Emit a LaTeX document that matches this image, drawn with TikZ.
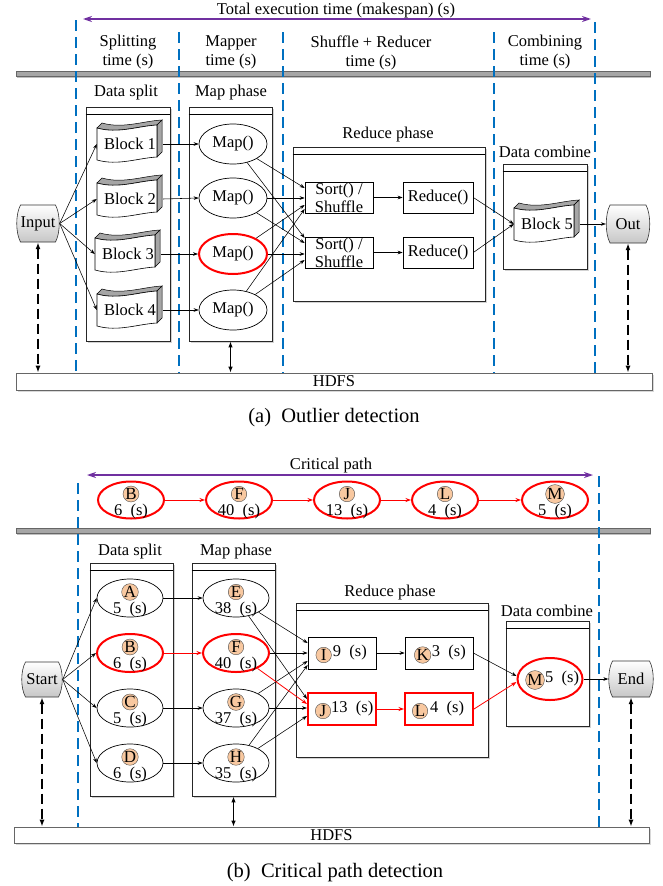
\documentclass[tikz,border=0pt]{standalone}
\usepackage{fontspec}
\setmainfont{Liberation Serif}
\usetikzlibrary{arrows.meta,calc,shapes.geometric,shadows}
\definecolor{dblue}{RGB}{0,112,192}
\definecolor{purp}{RGB}{112,48,160}
\definecolor{peach}{RGB}{248,200,160}
\definecolor{barg}{RGB}{166,166,166}
\definecolor{myred}{RGB}{255,0,0}
\tikzset{
  every node/.style={font=\fontsize{16.5}{19}\selectfont, inner sep=0pt},
  cont/.style={draw=black!85, line width=0.8pt, fill=white,
     drop shadow={shadow xshift=1.5pt,shadow yshift=-1.5pt,fill=black!35}},
  bline/.style={dblue, line width=1.4pt, dash pattern=on 11pt off 6pt},
  arr/.style={-{Stealth[length=5pt,width=3.6pt]}, line width=0.55pt},
  rarr/.style={-{Stealth[length=5.5pt,width=4pt]}, myred, line width=0.8pt},
  darr/.style={{Latex[length=7pt,width=5pt]}-{Latex[length=7pt,width=5pt]}, line width=1.4pt, dash pattern=on 10pt off 5pt},
  sarr/.style={{Latex[length=6pt,width=4.5pt]}-{Latex[length=6pt,width=4.5pt]}, line width=1.2pt},
  parr/.style={{Stealth[length=9pt,width=6pt]}-{Stealth[length=9pt,width=6pt]}, purp, line width=1.5pt},
  ell/.style={ellipse, draw, line width=0.7pt, fill=white, minimum width=66pt, minimum height=38pt},
  rell/.style={ell, draw=myred, line width=2pt},
  mapell/.style={ell, minimum width=68pt, minimum height=40pt},
  rbox/.style={draw, line width=0.7pt, fill=white, minimum width=68pt, minimum height=32pt},
  redbox/.style={rbox, draw=myred, line width=2pt},
  lc/.style={circle, draw=black!70, line width=0.4pt, fill=peach, minimum size=15.5pt, inner sep=0pt, font=\fontsize{17}{17}\selectfont},
  hdfs/.style={draw=black!60, line width=0.6pt, fill=white, drop shadow={shadow xshift=1.5pt,shadow yshift=-1.5pt,fill=black!30}},
  captxt/.style={font=\fontsize{20.5}{24}\selectfont},
  blknode/.style={minimum width=66pt, minimum height=32pt},
  pics/blk/.style={code={
    \path[fill=barg, draw=black, line width=0.5pt] (-31,-16) .. controls (-10,-10) and (10,-18) .. (29,-19) -- (34,-24) .. controls (15,-23) and (-5,-15) .. (-26,-21) -- cycle;
    \path[fill=barg, draw=black, line width=0.5pt] (29,-19) -- (34,-24) -- (34,8) -- (29,13) -- cycle;
    \path[fill=white, draw=black, line width=0.6pt] (-31,-16) .. controls (-10,-10) and (10,-18) .. (29,-19) -- (29,13) .. controls (10,14) and (-10,22) .. (-31,16) -- cycle;
  }},
  pics/iob/.style 2 args={code={
    \path[draw=black!80, line width=0.6pt, top color=white, bottom color=black!22]
      (-#1/2+4,-#2/2) -- (#1/2-4,-#2/2) .. controls (#1/2+1,-#2/4) and (#1/2+1,#2/4) .. (#1/2-4,#2/2)
      -- (-#1/2+4,#2/2) .. controls (-#1/2-1,#2/4) and (-#1/2-1,-#2/4) .. (-#1/2+4,-#2/2) -- cycle;
  }},
}
\newcommand{\enode}[5]{%
  \node[#3] (e#1) at (#2) {};
  \node[lc] (c#1) at ($(e#1)+(0,-6)$) {#4};
  \node (t#1) at ($(e#1)+(0,12)$) {#5};}
\newcommand{\rnode}[7]{%
  \node[#3] (r#1) at (#2) {};
  \node[lc] (c#1) at ($(r#1.west)+(#6,2)$) {#4};
  \node[anchor=west] (t#1) at ($(r#1.west)+(#7,0)$) {#5};}
\begin{document}
\begin{tikzpicture}[x=1pt,y=-1pt]
\useasboundingbox (0,0) rectangle (662,886);
% gray bars
\fill[black!25] (17,72.5) rectangle (651,77.5);
\filldraw[fill=barg, draw=black!60, line width=0.5pt] (16,71) rectangle (650,76);
\fill[black!25] (17,529.5) rectangle (651,534.5);
\filldraw[fill=barg, draw=black!60, line width=0.5pt] (16,528) rectangle (650,533);
% blue dashed lines
\draw[bline] (76,20) -- (76,373);
\draw[bline] (179,32) -- (179,373);
\draw[bline] (283,32) -- (283,373);
\draw[bline] (494,32) -- (494,373);
\draw[bline] (595,22) -- (595,373);
\draw[bline] (78,483) -- (78,827);
\draw[bline] (599,476) -- (599,827);
% ===== (a)
\node (ttl) at (336,11) {Total execution time (makespan) (s)};
\coordinate (pa1) at (83,19); \coordinate (pa2) at (591,19);
\draw[parr] (pa1) -- (pa2);
\node[align=center] (h1) at (128,52.5) {Splitting\\time (s)};
\node[align=center] (h2) at (231,52.5) {Mapper\\time (s)};
\node[align=center] (h3) at (371,52.5) {Shuffle + Reducer\\time (s)};
\node[align=center] (h4) at (545,52.5) {Combining\\time (s)};
\node (lds) at (126,93) {Data split};
\node (lmp) at (231,93) {Map phase};
\node (lrd) at (388,135) {Reduce phase};
\node (lcb) at (545,152) {Data combine};
\node[cont, minimum width=84pt, minimum height=234pt] (dsbox) at (128,224) {};
\draw[line width=0.7pt] ($(dsbox.north west)+(0,8)$) -- ($(dsbox.north east)+(0,8)$);
\node[cont, minimum width=83pt, minimum height=234pt] (mpbox) at (230.5,224) {};
\draw[line width=0.7pt] ($(mpbox.north west)+(0,8)$) -- ($(mpbox.north east)+(0,8)$);
\node[cont, minimum width=192pt, minimum height=154pt] (rdbox) at (389,224) {};
\draw[line width=0.7pt] ($(rdbox.north west)+(0,8)$) -- ($(rdbox.north east)+(0,8)$);
\node[cont, minimum width=84pt, minimum height=105pt] (cbbox) at (545,216.5) {};
\draw[line width=0.7pt] ($(cbbox.north west)+(0,8)$) -- ($(cbbox.north east)+(0,8)$);
% blocks
\pic at (128,144) {blk}; \node[blknode] (b1) at (130,144) {Block 1};
\pic at (128,199) {blk}; \node[blknode] (b2) at (130,199) {Block 2};
\pic at (126,254) {blk}; \node[blknode] (b3) at (128,254) {Block 3};
\pic at (128,310) {blk}; \node[blknode] (b4) at (130,310) {Block 4};
\pic at (545,224) {blk}; \node[blknode] (b5) at (547,224) {Block 5};
% maps
\node[mapell] (m1) at (233,144) {Map()};
\node[mapell] (m2) at (233,198) {Map()};
\node[mapell, draw=myred, line width=2pt] (m3) at (233,254) {Map()};
\node[mapell] (m4) at (233,310) {Map()};
% sort / reduce
\node[rbox, minimum height=31pt] (s1) at (339,197.5) {};
\node[align=center, font=\fontsize{16.5}{18}\selectfont] (ts1) at (s1) {Sort() /\\Shuffle};
\node[rbox, minimum height=31pt] (s2) at (339,252.5) {};
\node[align=center, font=\fontsize{16.5}{18}\selectfont] (ts2) at (s2) {Sort() /\\Shuffle};
\node[rbox, minimum width=70pt, minimum height=31pt] (r1) at (438,197.5) {Reduce()};
\node[rbox, minimum width=70pt, minimum height=31pt] (r2) at (438,252.5) {Reduce()};
% input / out
\pic at (38,223.5) {iob={43}{37}};
\node[minimum width=43pt, minimum height=37pt] (inp) at (38,223.5) {Input};
\pic at (628,224) {iob={44}{38}};
\node[minimum width=44pt, minimum height=38pt] (out) at (628,224) {Out};
% HDFS
\node[hdfs, minimum width=636pt, minimum height=17pt] (hd1) at (334,381.5) {HDFS};
\node[captxt] (capa) at (334,418) {(a)\ \ Outlier detection};
% edges (a)
\foreach \b in {b1,b2,b3,b4} \draw[arr] (inp.east) -- (\b.west);
\draw[arr] (b1.east) -- (m1.west);
\draw[arr] (b2.east) -- (m2.west);
\draw[arr] (b3.east) -- (m3.west);
\draw[arr] (b4.east) -- (m4.west);
\draw[arr] (m1) -- ($(s1.west)+(0,-9.5)$);
\draw[arr] (m1) -- ($(s2.west)+(0,-14.5)$);
\draw[arr] (m2.east) -- ($(s1.west)+(0,0.5)$);
\draw[arr] (m2) -- ($(s2.west)+(0,-9.5)$);
\draw[arr] (m3) -- ($(s1.west)+(0,7.5)$);
\draw[arr] (m3.east) -- ($(s2.west)+(0,1.5)$);
\draw[arr] (m4) -- ($(s1.west)+(0,11.5)$);
\draw[arr] (m4) -- ($(s2.west)+(0,7.5)$);
\draw[arr] (s1.east) -- (r1.west);
\draw[arr] (s2.east) -- (r2.west);
\draw[arr] (r1.east) -- (b5.west);
\draw[arr] (r2.east) -- (b5.west);
\draw[arr] (b5.east) -- (out.west);
\draw[darr] (inp.south) -- (inp.south |- hd1.north);
\draw[darr] (out.south) -- (out.south |- hd1.north);
\draw[sarr] (mpbox.south) -- (mpbox.south |- hd1.north);
% ===== (b)
\node (lcp) at (331,466) {Critical path};
\coordinate (pb1) at (87,475); \coordinate (pb2) at (593,475);
\draw[parr] (pb1) -- (pb2);
\enode{pB}{131,500}{rell, minimum height=37pt}{B}{6~~(s)}
\enode{pF}{239,500}{rell, minimum height=37pt}{F}{40~~(s)}
\enode{pJ}{347,500}{rell, minimum height=37pt}{J}{13~~(s)}
\enode{pL}{445,500}{rell, minimum height=37pt}{L}{4~~(s)}
\enode{pM}{555,500}{rell, minimum height=37pt}{M}{5~~(s)}
\draw[rarr] (epB.east) -- (epF.west);
\draw[rarr] (epF.east) -- (epJ.west);
\draw[rarr] (epJ.east) -- (epL.west);
\draw[rarr] (epL.east) -- (epM.west);
\node (lds2) at (130,552) {Data split};
\node (lmp2) at (236,552) {Map phase};
\node (lrd2) at (390,593) {Reduce phase};
\node (lcb2) at (547,611) {Data combine};
\node[cont, minimum width=83pt, minimum height=233pt] (dsbox2) at (131.5,679.5) {};
\draw[line width=0.7pt] ($(dsbox2.north west)+(0,8)$) -- ($(dsbox2.north east)+(0,8)$);
\node[cont, minimum width=83pt, minimum height=233pt] (mpbox2) at (233.5,679.5) {};
\draw[line width=0.7pt] ($(mpbox2.north west)+(0,8)$) -- ($(mpbox2.north east)+(0,8)$);
\node[cont, minimum width=192pt, minimum height=154pt] (rdbox2) at (392,680) {};
\draw[line width=0.7pt] ($(rdbox2.north west)+(0,8)$) -- ($(rdbox2.north east)+(0,8)$);
\node[cont, minimum width=83pt, minimum height=105pt] (cbbox2) at (547.5,673.5) {};
\draw[line width=0.7pt] ($(cbbox2.north west)+(0,8)$) -- ($(cbbox2.north east)+(0,8)$);
\enode{A}{130,598}{ell}{A}{5~~(s)}
\enode{B}{130,653}{rell}{B}{6~~(s)}
\enode{C}{130,708}{ell}{C}{5~~(s)}
\enode{D}{130,763}{ell}{D}{6~~(s)}
\enode{E}{236,598}{ell}{E}{38~~(s)}
\enode{F}{236,653}{rell}{F}{40~~(s)}
\enode{G}{236,708}{ell}{G}{37~~(s)}
\enode{H}{236,763}{ell}{H}{35~~(s)}
\rnode{I}{342,653}{rbox}{I}{9~~(s)}{16}{25}
\rnode{J}{342,709}{redbox}{J}{13~~(s)}{16}{24}
\rnode{K}{439,653}{rbox}{K}{3~~(s)}{18}{27}
\rnode{L}{439,709}{redbox}{L}{4~~(s)}{16}{26}
\node[rell, minimum width=65pt, minimum height=42pt] (eM) at (550,679) {};
\node[lc] (cM) at ($(eM)+(-15,1)$) {M};
\node[anchor=west] (tM) at ($(eM)+(-5,0)$) {5~~(s)};
\pic at (42,679.5) {iob={41}{35}};
\node[minimum width=41pt, minimum height=35pt] (st) at (42,679.5) {Start};
\pic at (631,679) {iob={45}{36}};
\node[minimum width=45pt, minimum height=36pt] (en) at (631,679) {End};
\node[hdfs, minimum width=635pt, minimum height=16pt] (hd2) at (331.5,835) {HDFS};
\node[captxt] (capb) at (335,873) {(b)\ \ Critical path detection};
% edges (b)
\foreach \n in {A,B,C,D} \draw[arr] (st.east) -- (e\n.west);
\draw[arr] (eA.east) -- (eE.west);
\draw[rarr] (eB.east) -- (eF.west);
\draw[arr] (eC.east) -- (eG.west);
\draw[arr] (eD.east) -- (eH.west);
\draw[arr] (eE) -- ($(rI.west)+(0,-10)$);
\draw[arr] (eF.east) -- (rI.west);
\draw[arr] (eG) -- ($(rI.west)+(0,8)$);
\draw[arr] (eH) -- ($(rI.west)+(0,12)$);
\draw[arr] (eE) -- ($(rJ.west)+(0,-10)$);
\draw[rarr] (eF) -- ($(rJ.west)+(0,-5)$);
\draw[arr] (eG.east) -- ($(rJ.west)+(0,-1)$);
\draw[arr] (eH) -- ($(rJ.west)+(0,7)$);
\draw[arr] (rI.east) -- (rK.west);
\draw[rarr] (rJ.east) -- (rL.west);
\draw[arr] (rK.east) -- ($(eM.west)+(0,-3)$);
\draw[rarr] (rL.east) -- ($(eM.west)+(0,3)$);
\draw[arr] (eM.east) -- (en.west);
\draw[darr] (st.south) -- (st.south |- hd2.north);
\draw[darr] (en.south) -- (en.south |- hd2.north);
\draw[sarr] (mpbox2.south) -- (mpbox2.south |- hd2.north);
\end{tikzpicture}
\end{document}
